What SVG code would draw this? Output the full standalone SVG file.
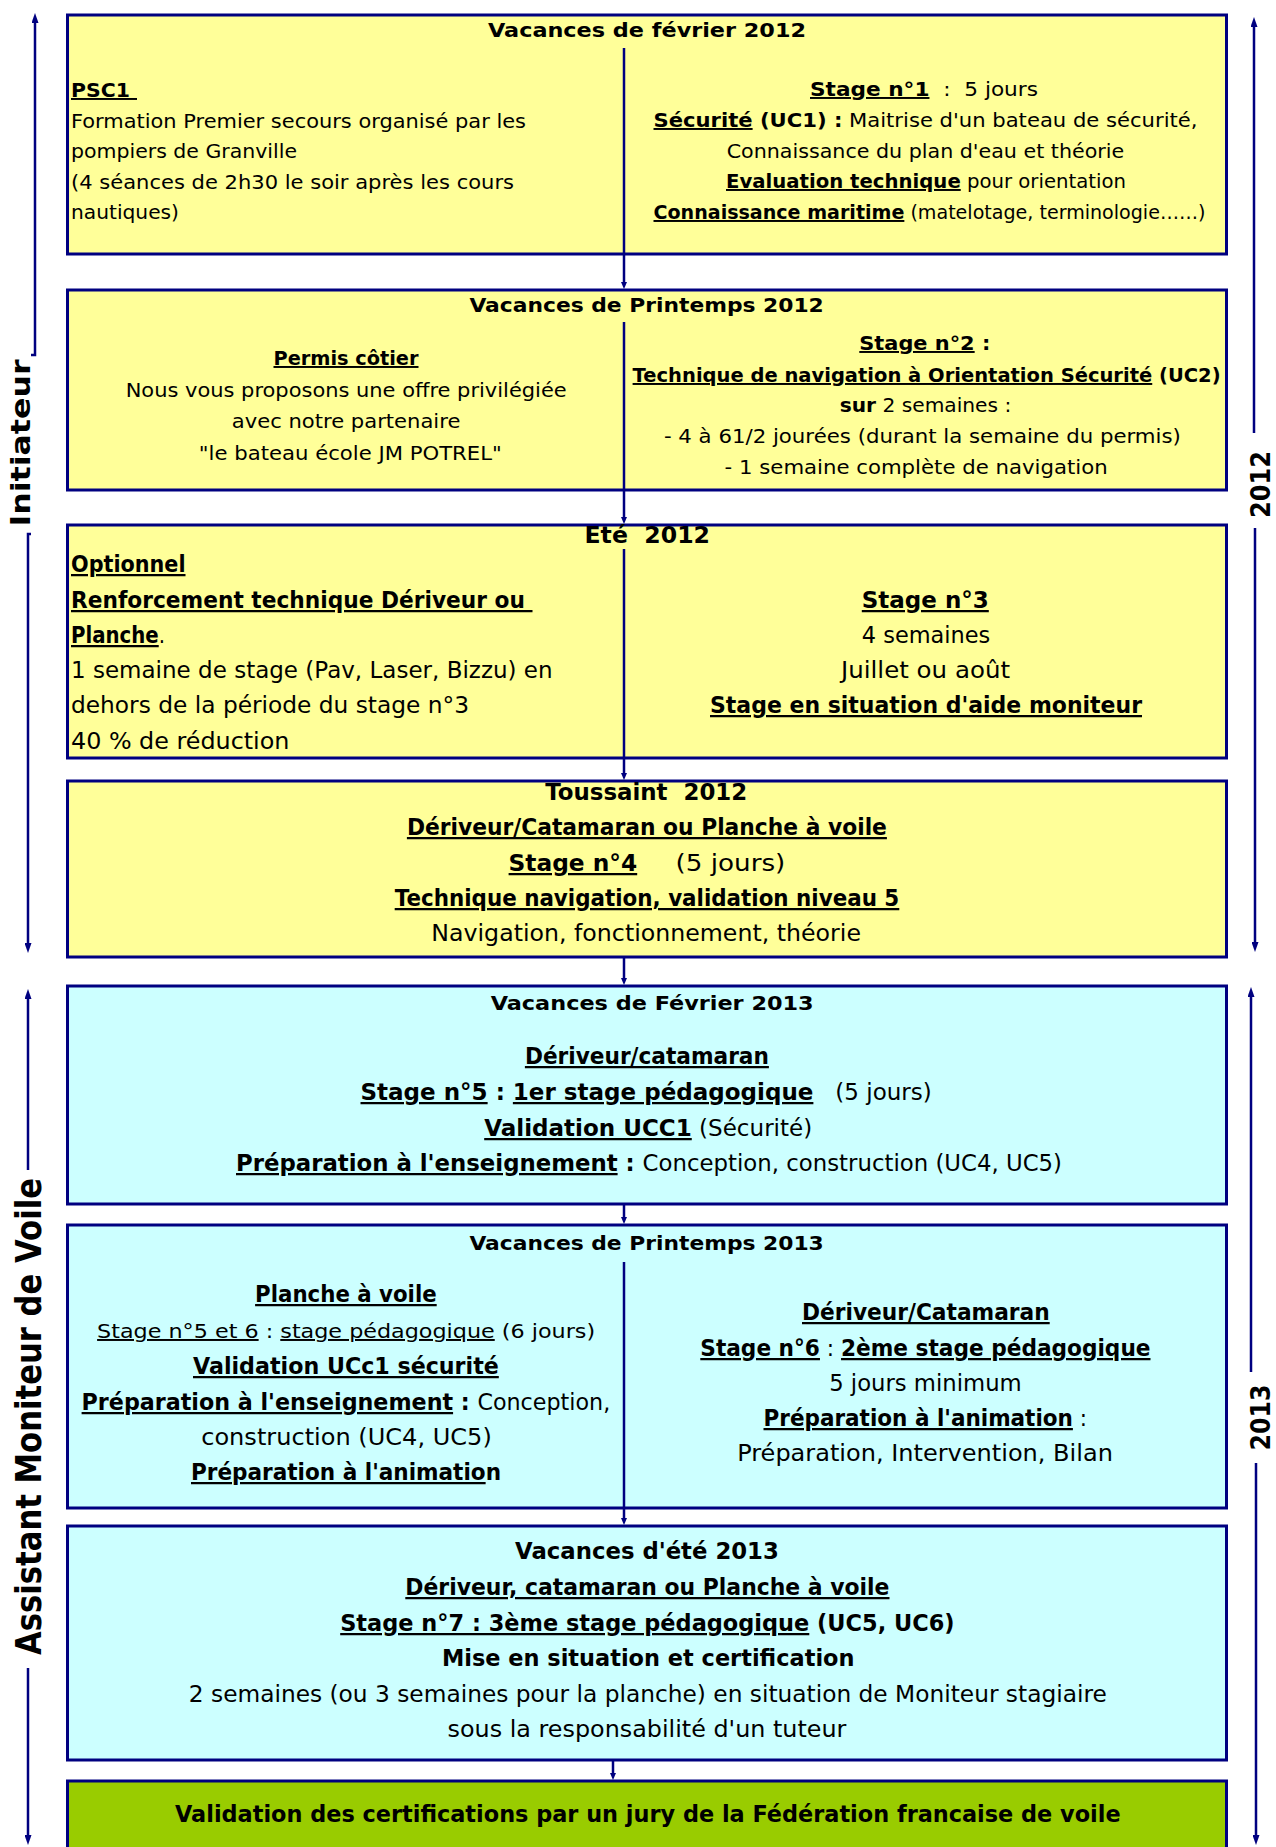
<svg xmlns="http://www.w3.org/2000/svg" width="1276" height="1847" viewBox="0 0 1276 1847">
<style>
text{font-family:"DejaVu Sans","Liberation Sans",sans-serif;fill:#000;white-space:pre}
.a{font-size:19.5px}
.c{font-size:22.5px}
.b{font-weight:bold}
.u{text-decoration:underline}
.box{stroke:#000080;stroke-width:3}
.y{fill:#FFFF99}
.cy{fill:#CCFFFF}
.g{fill:#99CC00}
.con{fill:none;stroke:#000080;stroke-width:2.5}
.side{font-weight:bold}
</style>
<defs>
<marker id="sm" viewBox="0 0 7 6" refX="0" refY="3" markerWidth="7" markerHeight="6" markerUnits="userSpaceOnUse" orient="auto-start-reverse"><path d="M0,0 L7,3 L0,6 z" fill="#000080"/></marker>
<marker id="bg" viewBox="0 0 10 7" refX="0" refY="3.5" markerWidth="10" markerHeight="7" markerUnits="userSpaceOnUse" orient="auto-start-reverse"><path d="M0,0 L10,3.5 L0,7 z" fill="#000080"/></marker>
</defs>
<rect width="1276" height="1847" fill="#fff"/>

<g id="n1">
<rect class="box y" x="67.5" y="15" width="1159" height="239"/>
<text class="a b" x="488" y="37" textLength="318" lengthAdjust="spacingAndGlyphs">Vacances de février 2012</text>
<text class="a b u" x="71" y="97" textLength="66" lengthAdjust="spacingAndGlyphs">PSC1 </text>
<text class="a" x="71" y="128" textLength="455" lengthAdjust="spacingAndGlyphs">Formation Premier secours organisé par les</text>
<text class="a" x="71" y="158" textLength="226" lengthAdjust="spacingAndGlyphs">pompiers de Granville</text>
<text class="a" x="71" y="189" textLength="443" lengthAdjust="spacingAndGlyphs">(4 séances de 2h30 le soir après les cours</text>
<text class="a" x="71" y="219" textLength="108" lengthAdjust="spacingAndGlyphs">nautiques)</text>
<text class="a" x="810" y="96" textLength="228" lengthAdjust="spacingAndGlyphs"><tspan class="b u">Stage n°1</tspan>  :  5 jours</text>
<text class="a" x="653.5" y="127" textLength="544" lengthAdjust="spacingAndGlyphs"><tspan class="b u">Sécurité</tspan><tspan class="b"> (UC1) :</tspan> Maitrise d'un bateau de sécurité,</text>
<text class="a" x="726.7" y="158" textLength="397.5" lengthAdjust="spacingAndGlyphs">Connaissance du plan d'eau et théorie</text>
<text class="a" x="726" y="188" textLength="400" lengthAdjust="spacingAndGlyphs"><tspan class="b u">Evaluation technique</tspan> pour orientation</text>
<text class="a" x="653.5" y="219" textLength="552" lengthAdjust="spacingAndGlyphs"><tspan class="b u">Connaissance maritime</tspan> (matelotage, terminologie……)</text>
</g>

<g id="n2">
<rect class="box y" x="67.5" y="290" width="1159" height="200"/>
<text class="a b" x="469.4" y="312" textLength="354.4" lengthAdjust="spacingAndGlyphs">Vacances de Printemps 2012</text>
<text class="a b u" x="273.5" y="365" textLength="145" lengthAdjust="spacingAndGlyphs">Permis côtier</text>
<text class="a" x="125.7" y="397" textLength="441" lengthAdjust="spacingAndGlyphs">Nous vous proposons une offre privilégiée</text>
<text class="a" x="231.8" y="428" textLength="228.6" lengthAdjust="spacingAndGlyphs">avec notre partenaire</text>
<text class="a" x="198.8" y="460" textLength="303" lengthAdjust="spacingAndGlyphs">"le bateau école JM POTREL"</text>
<text class="a" x="859.3" y="350" textLength="131" lengthAdjust="spacingAndGlyphs"><tspan class="b u">Stage n°2</tspan><tspan class="b"> :</tspan></text>
<text class="a" x="632.6" y="382" textLength="588" lengthAdjust="spacingAndGlyphs"><tspan class="b u">Technique de navigation à Orientation Sécurité</tspan><tspan class="b"> (UC2)</tspan></text>
<text class="a" x="839.7" y="412" textLength="171.5" lengthAdjust="spacingAndGlyphs"><tspan class="b">sur</tspan> 2 semaines :</text>
<text class="a" x="663.9" y="443" textLength="517" lengthAdjust="spacingAndGlyphs">- 4 à 61/2 jourées (durant la semaine du permis)</text>
<text class="a" x="724.6" y="474" textLength="383" lengthAdjust="spacingAndGlyphs">- 1 semaine complète de navigation</text>
</g>

<g id="n3">
<rect class="box y" x="67.5" y="525" width="1159" height="233"/>
<text class="c b" x="584.5" y="543" textLength="125.5" lengthAdjust="spacingAndGlyphs">Eté  2012</text>
<text class="c b u" x="71" y="572" textLength="114.5" lengthAdjust="spacingAndGlyphs">Optionnel</text>
<text class="c b u" x="71" y="608" textLength="461.5" lengthAdjust="spacingAndGlyphs">Renforcement technique Dériveur ou </text>
<text class="c" x="71" y="643" textLength="94" lengthAdjust="spacingAndGlyphs"><tspan class="b u">Planche</tspan>.</text>
<text class="c" x="71" y="678" textLength="481.6" lengthAdjust="spacingAndGlyphs">1 semaine de stage (Pav, Laser, Bizzu) en</text>
<text class="c" x="71" y="713" textLength="398" lengthAdjust="spacingAndGlyphs">dehors de la période du stage n°3</text>
<text class="c" x="71" y="749" textLength="218.4" lengthAdjust="spacingAndGlyphs">40 % de réduction</text>
<text class="c b u" x="861.8" y="608" textLength="127" lengthAdjust="spacingAndGlyphs">Stage n°3</text>
<text class="c" x="861.8" y="643" textLength="128.5" lengthAdjust="spacingAndGlyphs">4 semaines</text>
<text class="c" x="841" y="678" textLength="169" lengthAdjust="spacingAndGlyphs">Juillet ou août</text>
<text class="c b u" x="710" y="713" textLength="432" lengthAdjust="spacingAndGlyphs">Stage en situation d'aide moniteur</text>
</g>

<g id="n4">
<rect class="box y" x="67.5" y="781" width="1159" height="176"/>
<text class="c b" x="545.2" y="800" textLength="202" lengthAdjust="spacingAndGlyphs">Toussaint  2012</text>
<text class="c b u" x="406.9" y="835" textLength="480" lengthAdjust="spacingAndGlyphs">Dériveur/Catamaran ou Planche à voile</text>
<text class="c b u" x="508.6" y="871" textLength="128.6" lengthAdjust="spacingAndGlyphs">Stage n°4</text>
<text class="c" x="675.5" y="871" textLength="109.8" lengthAdjust="spacingAndGlyphs">(5 jours)</text>
<text class="c b u" x="394.7" y="906" textLength="504.6" lengthAdjust="spacingAndGlyphs">Technique navigation, validation niveau 5</text>
<text class="c" x="431.3" y="941" textLength="429.7" lengthAdjust="spacingAndGlyphs">Navigation, fonctionnement, théorie</text>
</g>

<g id="n5">
<rect class="box cy" x="67.5" y="986" width="1159" height="218"/>
<text class="a b" x="490.7" y="1010" textLength="323" lengthAdjust="spacingAndGlyphs">Vacances de Février 2013</text>
<text class="c b u" x="524.9" y="1064" textLength="244" lengthAdjust="spacingAndGlyphs">Dériveur/catamaran</text>
<text class="c" x="360.5" y="1100" textLength="571.3" lengthAdjust="spacingAndGlyphs"><tspan class="b u">Stage n°5</tspan><tspan class="b"> : </tspan><tspan class="b u">1er stage pédagogique</tspan>   (5 jours)</text>
<text class="c" x="484.2" y="1136" textLength="328" lengthAdjust="spacingAndGlyphs"><tspan class="b u">Validation UCC1</tspan> (Sécurité)</text>
<text class="c" x="236" y="1171" textLength="826" lengthAdjust="spacingAndGlyphs"><tspan class="b u">Préparation à l'enseignement</tspan><tspan class="b"> : </tspan>Conception, construction (UC4, UC5)</text>
</g>

<g id="n6">
<rect class="box cy" x="67.5" y="1225" width="1159" height="283"/>
<text class="a b" x="469.4" y="1250" textLength="354.4" lengthAdjust="spacingAndGlyphs">Vacances de Printemps 2013</text>
<text class="c b u" x="255.1" y="1302" textLength="181.6" lengthAdjust="spacingAndGlyphs">Planche à voile</text>
<text class="a" x="97.1" y="1338" textLength="498" lengthAdjust="spacingAndGlyphs"><tspan class="u">Stage n°5 et 6</tspan> : <tspan class="u">stage pédagogique</tspan> (6 jours)</text>
<text class="c b u" x="193" y="1374" textLength="305.8" lengthAdjust="spacingAndGlyphs">Validation UCc1 sécurité</text>
<text class="c" x="81.6" y="1410" textLength="528.6" lengthAdjust="spacingAndGlyphs"><tspan class="b u">Préparation à l'enseignement</tspan><tspan class="b"> : </tspan>Conception,</text>
<text class="c" x="201.2" y="1445" textLength="290.6" lengthAdjust="spacingAndGlyphs">construction (UC4, UC5)</text>
<text class="c b" x="191" y="1480" textLength="310" lengthAdjust="spacingAndGlyphs"><tspan class="u">Préparation à l'animatio</tspan>n</text>
<text class="c b u" x="802" y="1320" textLength="247.7" lengthAdjust="spacingAndGlyphs">Dériveur/Catamaran</text>
<text class="c" x="700.3" y="1356" textLength="450.2" lengthAdjust="spacingAndGlyphs"><tspan class="b u">Stage n°6</tspan> : <tspan class="b u">2ème stage pédagogique</tspan></text>
<text class="c" x="829.2" y="1391" textLength="192.5" lengthAdjust="spacingAndGlyphs">5 jours minimum</text>
<text class="c" x="763.5" y="1426" textLength="323.5" lengthAdjust="spacingAndGlyphs"><tspan class="b u">Préparation à l'animation</tspan> :</text>
<text class="c" x="737.2" y="1461" textLength="375.7" lengthAdjust="spacingAndGlyphs">Préparation, Intervention, Bilan</text>
</g>

<g id="n7">
<rect class="box cy" x="67.5" y="1526" width="1159" height="234"/>
<text class="c b" x="515.1" y="1559" textLength="263.7" lengthAdjust="spacingAndGlyphs">Vacances d'été 2013</text>
<text class="c b u" x="405.3" y="1595" textLength="484.2" lengthAdjust="spacingAndGlyphs">Dériveur, catamaran ou Planche à voile</text>
<text class="c b" x="340.2" y="1631" textLength="614.4" lengthAdjust="spacingAndGlyphs"><tspan class="u">Stage n°7 : 3ème stage pédagogique</tspan> (UC5, UC6)</text>
<text class="c b" x="441.9" y="1666" textLength="412.6" lengthAdjust="spacingAndGlyphs">Mise en situation et certification</text>
<text class="c" x="188.8" y="1702" textLength="918" lengthAdjust="spacingAndGlyphs">2 semaines (ou 3 semaines pour la planche) en situation de Moniteur stagiaire</text>
<text class="c" x="447.6" y="1737" textLength="398.8" lengthAdjust="spacingAndGlyphs">sous la responsabilité d'un tuteur</text>
</g>

<g id="n8">
<rect class="box g" x="67.5" y="1781" width="1159" height="90"/>
<text class="c b" x="175" y="1822" textLength="945.6" lengthAdjust="spacingAndGlyphs">Validation des certifications par un jury de la Fédération francaise de voile</text>
</g>

<g id="connectors">
<path class="con" d="M624,48 V282" marker-end="url(#sm)"/>
<path class="con" d="M624,322 V517" marker-end="url(#sm)"/>
<path class="con" d="M624,549 V773" marker-end="url(#sm)"/>
<path class="con" d="M624,957 V978" marker-end="url(#sm)"/>
<path class="con" d="M624,1204 V1217" marker-end="url(#sm)"/>
<path class="con" d="M624,1262 V1518" marker-end="url(#sm)"/>
<path class="con" d="M613,1760 V1773" marker-end="url(#sm)"/>
<path class="con" d="M35,23 V355 H31" marker-start="url(#bg)"/>
<path class="con" d="M31,534 H28 V943" marker-end="url(#bg)"/>
<path class="con" d="M1254,27 V433" marker-start="url(#bg)"/>
<path class="con" d="M1255,528 V942" marker-end="url(#bg)"/>
<path class="con" d="M28,999 V1170" marker-start="url(#bg)"/>
<path class="con" d="M28,1668 V1835" marker-end="url(#bg)"/>
<path class="con" d="M1251,997 V1372" marker-start="url(#bg)"/>
<path class="con" d="M1256,1463 V1835" marker-end="url(#bg)"/>
</g>

<g id="label-initiateur">
<text class="side" font-size="26" text-anchor="middle" transform="translate(30,443) rotate(-90)" textLength="167" lengthAdjust="spacingAndGlyphs">Initiateur</text>
</g>
<g id="label-assistant">
<text class="side" font-size="36" text-anchor="middle" transform="translate(41,1416.5) rotate(-90)" textLength="477" lengthAdjust="spacingAndGlyphs">Assistant Moniteur de Voile</text>
</g>
<g id="label-2012">
<text class="side" font-size="27" text-anchor="middle" transform="translate(1270,484.5) rotate(-90)" textLength="67" lengthAdjust="spacingAndGlyphs">2012</text>
</g>
<g id="label-2013">
<text class="side" font-size="27" text-anchor="middle" transform="translate(1270,1417.5) rotate(-90)" textLength="66" lengthAdjust="spacingAndGlyphs">2013</text>
</g>
</svg>
